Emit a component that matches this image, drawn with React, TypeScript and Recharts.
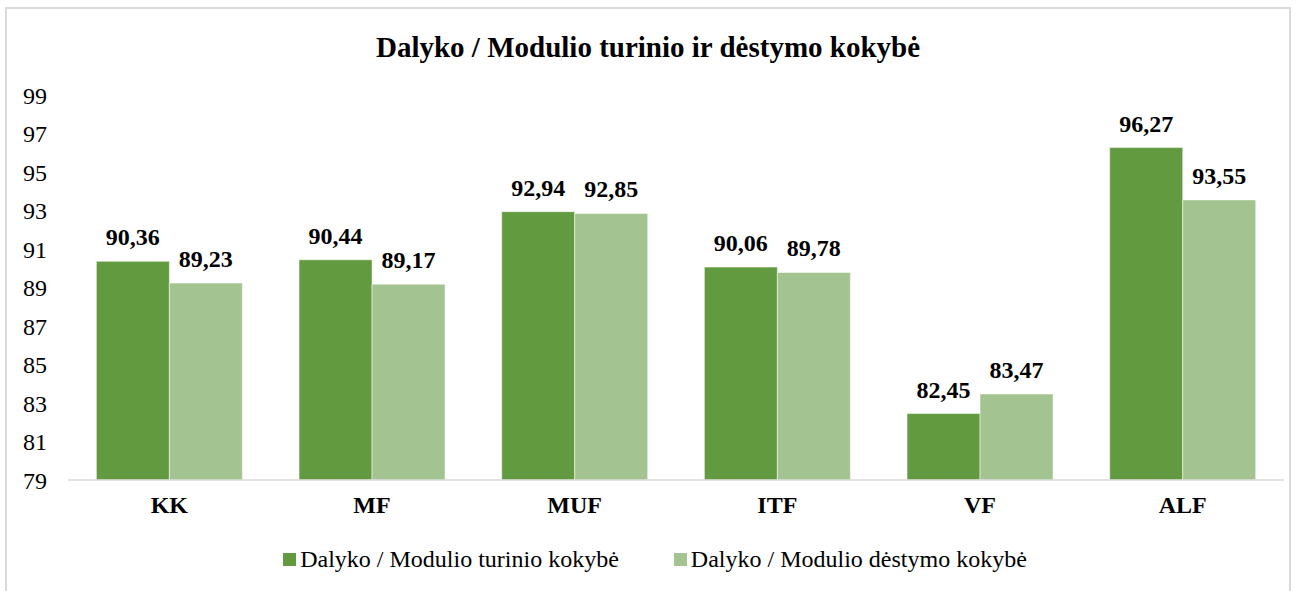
import React from "react";
import { BarChart, Bar, XAxis, YAxis, LabelList } from "recharts";

const categories = ["KK", "MF", "MUF", "ITF", "VF", "ALF"];
const turinio = [90.36, 90.44, 92.94, 90.06, 82.45, 96.27];
const destymo = [89.23, 89.17, 92.85, 89.78, 83.47, 93.55];
const yTicks = [79, 81, 83, 85, 87, 89, 91, 93, 95, 97, 99];
const seriesNames = ["Dalyko / Modulio turinio kokybė", "Dalyko / Modulio dėstymo kokybė"];
const title = "Dalyko / Modulio turinio ir dėstymo kokybė";

const DARK = "#629b3f";
const LIGHT = "#a3c490";
const FONT = "'Liberation Serif', serif";

const data = categories.map((c, i) => ({ name: c, a: turinio[i], b: destymo[i] }));

const fmt = (v: any) => Number(v).toFixed(2).replace(".", ",");

export default function App() {
  return (
    <div
      style={{
        position: "absolute",
        left: 5,
        top: 7,
        width: 1286,
        height: 600,
        border: "2px solid #d9d9d9",
        boxSizing: "border-box",
        background: "#fff",
        fontFamily: FONT,
      }}
    >
      <div
        style={{
          position: "absolute",
          left: 0,
          right: 0,
          top: 22,
          textAlign: "center",
          fontWeight: "bold",
          fontSize: 29,
          lineHeight: 1.15,
          color: "#000",
          fontFamily: FONT,
        }}
      >
        {title}
      </div>
      <BarChart
        width={1282}
        height={590}
        data={data}
        margin={{ top: 86, right: 5, left: 0, bottom: 89 }}
        barCategoryGap="14%"
        barGap={0}
      >
        <YAxis
          domain={[79, 99]}
          ticks={yTicks}
          interval={0}
          width={61}
          axisLine={false}
          tickLine={false}
          tickSize={0}
          tickMargin={21}
          tick={{ fill: "#000", fontSize: 24, fontFamily: FONT }}
        />
        <XAxis
          dataKey="name"
          height={30}
          axisLine={{ stroke: "#d9d9d9", strokeWidth: 1.5 }}
          tickLine={false}
          tickSize={0}
          tickMargin={16}
          tick={{ fill: "#000", fontSize: 24, fontWeight: "bold", fontFamily: FONT }}
        />
        <Bar dataKey="a" name={seriesNames[0]} fill={DARK} stroke="#fff" strokeWidth={0.5} isAnimationActive={false}>
          <LabelList
            dataKey="a"
            position="top"
            offset={16}
            formatter={fmt}
            style={{ fill: "#000", fontSize: 24, fontWeight: "bold", fontFamily: FONT }}
          />
        </Bar>
        <Bar dataKey="b" name={seriesNames[1]} fill={LIGHT} stroke="#fff" strokeWidth={0.5} isAnimationActive={false}>
          <LabelList
            dataKey="b"
            position="top"
            offset={16}
            formatter={fmt}
            style={{ fill: "#000", fontSize: 24, fontWeight: "bold", fontFamily: FONT }}
          />
        </Bar>
      </BarChart>
      <div
        style={{
          position: "absolute",
          left: 0,
          right: 0,
          top: 537,
          paddingLeft: 14,
          display: "flex",
          justifyContent: "center",
          alignItems: "center",
          fontSize: 24,
          lineHeight: 1.15,
          color: "#000",
          fontFamily: FONT,
        }}
      >
        {seriesNames.map((n, i) => (
          <div key={n} style={{ display: "flex", alignItems: "center", marginRight: i === 0 ? 55 : 0 }}>
            <span
              style={{
                display: "inline-block",
                width: 13,
                height: 13,
                background: i === 0 ? DARK : LIGHT,
                marginRight: 4,
              }}
            />
            <span>{n}</span>
          </div>
        ))}
      </div>
    </div>
  );
}
